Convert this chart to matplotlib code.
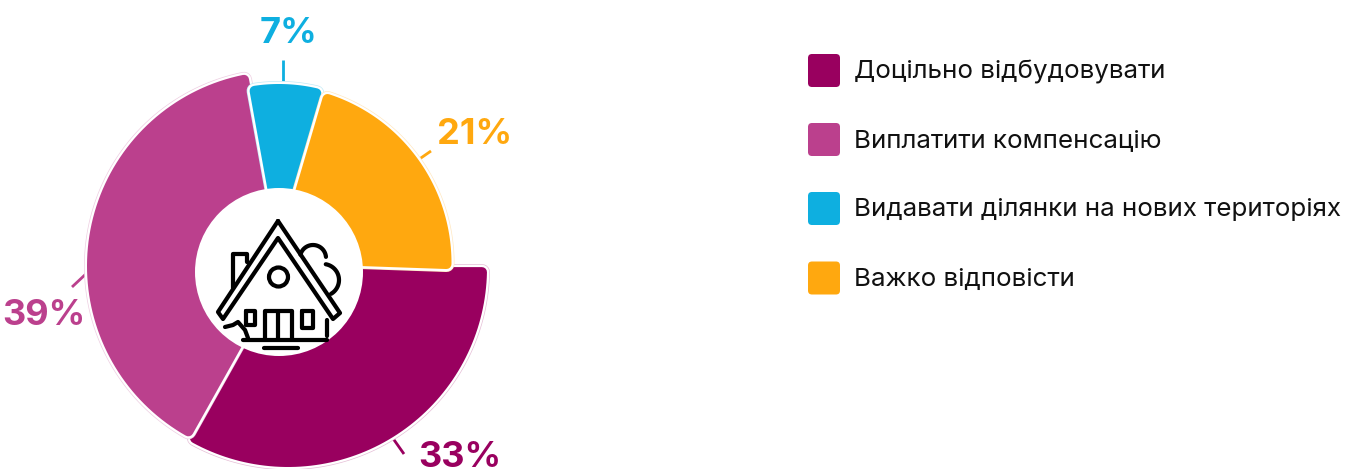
import numpy as np
import matplotlib
matplotlib.use('Agg')
import matplotlib.pyplot as plt
from matplotlib.patches import Polygon, Circle, FancyBboxPatch

categories = ['Доцільно відбудовувати', 'Виплатити компенсацію',
              'Видавати ділянки на нових територіях', 'Важко відповісти']
values = [33, 39, 7, 21]
colors = ['#99005f', '#bb408d', '#0eafe0', '#ffa80f']
halos = ['#e6bfd7', '#eecfe2', '#c3ebf7', '#ffe9c3']
# every slice has its own apex and outer arc, and a small turn
apexes = [(283.5, 267), (284, 271), (279, 253), (274, 263)]
arc_centres = [(288, 268), (282, 266), (279, 253), (274, 263)]
radii = [199, 195, 169, 177.5]
turns = [0, -0.5, -0.5, -2]

W, H = 1357, 469
CX, CY = 279, 272
px = 72 / 100  # points per pixel at dpi 100
INSET = 5

fig = plt.figure(figsize=(W / 100, H / 100), dpi=100)
ax = fig.add_axes([0, 0, 1, 1])
ax.set_xlim(0, W)
ax.set_ylim(H, 0)
ax.axis('off')


def slice_outline(a1, a2, r, apex, centre):
    # shrunk by INSET, a thick round edge then grows it back with round corners
    mid = np.radians((a1 + a2) / 2)
    half = np.radians((a2 - a1) / 2)
    d = INSET / np.sin(half)
    pts = [(apex[0] + d * np.cos(mid), apex[1] - d * np.sin(mid))]
    da = np.degrees(np.arcsin(INSET / (r - INSET)))
    dx, dy = apex[0] - centre[0], apex[1] - centre[1]
    for a in np.linspace(a1 + da, a2 - da, 80):
        ux, uy = np.cos(np.radians(a)), -np.sin(np.radians(a))
        b = dx * ux + dy * uy
        t = -b + np.sqrt(b * b - (dx * dx + dy * dy - (r - INSET) ** 2))
        pts.append((apex[0] + t * ux, apex[1] + t * uy))
    return pts


start = 0.0
for v, c, h, r, ap, ac, tn in zip(values, colors, halos, radii, apexes, arc_centres, turns):
    sweep = v / sum(values) * 360
    pts = slice_outline(start - sweep + tn, start + tn, r, ap, ac)
    ax.add_patch(Polygon(pts, closed=True, fc=h, ec=h, lw=(2 * INSET + 6) * px, joinstyle='round', zorder=2))
    ax.add_patch(Polygon(pts, closed=True, fc='white', ec='white', lw=(2 * INSET + 4.6) * px, joinstyle='round', zorder=2))
    ax.add_patch(Polygon(pts, closed=True, fc=c, ec=c, lw=2 * INSET * px, joinstyle='round', zorder=2))
    start -= sweep

ax.add_patch(Circle((CX, CY), 84, fc='white', ec='none', zorder=4))

# value labels and their leader lines
label_xy = [(460, 467), (44, 325), (288.5, 43), (475, 144)]
leaders = [((392, 437), (404, 454)), ((88, 272), (72, 287)),
           ((283, 84), (283, 60)), ((418, 160), (431, 151))]
for v, c, xy, l in zip(values, colors, label_xy, leaders):
    ax.plot([l[0][0], l[1][0]], [l[0][1], l[1][1]], color=c, lw=2.8 * px, zorder=1, solid_capstyle='butt')
    ax.text(xy[0], xy[1], f'{v}%', color=c, fontsize=26, family='Inter', weight='bold',
            ha='center', va='baseline', zorder=5)

# legend
leg_y = [70.5, 139.5, 208.5, 278]
for cat, c, y in zip(categories, colors, leg_y):
    ax.add_patch(FancyBboxPatch((811, y - 13.5), 26, 27, boxstyle='round,pad=3,rounding_size=4',
                                fc=c, ec='none', zorder=3))
    ax.text(854, y + 1, cat, color='#111111', fontsize=18.7, family='Inter', ha='left', va='center')

# house icon in the middle
ik = dict(color='black', lw=4.2 * px, solid_capstyle='round', solid_joinstyle='round', zorder=6)


def line(*p):
    ax.plot([q[0] for q in p], [q[1] for q in p], **ik)


def bump(x, y, r, t1, t2):
    t = np.radians(np.linspace(t1, t2, 30))
    ax.plot(x + r * np.cos(t), y - r * np.sin(t), **ik)


line((278, 221), (218, 312), (223, 319), (278, 238), (333, 319), (340, 313), (278, 221))
line((233, 288), (233, 254), (247, 254), (247, 262))
line((246, 311), (255, 311), (255, 325), (246, 325), (246, 311))
line((265, 340), (265, 311), (292, 311), (292, 340))
line((278, 311), (278, 340))
line((302, 311), (313, 311), (313, 328), (302, 328), (302, 311))
line((327, 320), (327, 336))
line((243, 340), (327, 340))
line((264, 348), (298, 348))
ax.add_patch(Circle((278.5, 277), 9.5, fc='none', ec='black', lw=4.2 * px, zorder=6))
bump(313, 258, 13, 165, 5)
bump(323, 280, 16, 80, -60)
line((225, 327), (233, 325), (238, 322), (245, 330), (248, 338))

fig.savefig('out.png', dpi=100)
